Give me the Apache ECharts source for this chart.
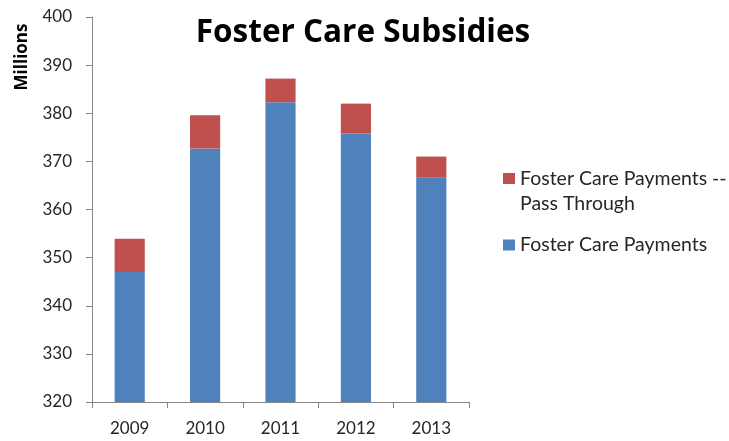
<!DOCTYPE html>
<html>
<head>
<meta charset="utf-8">
<script src="https://cdn.jsdelivr.net/npm/echarts@6/dist/echarts.min.js"></script>
<style>html,body{margin:0;padding:0;background:#fff;}#c{width:729px;height:441px;}</style>
</head>
<body>
<div id="c"></div>
<script>
var years = ['2009', '2010', '2011', '2012', '2013'];
var payments = [347.0, 372.7, 382.3, 375.8, 366.6];
var passThrough = [6.9, 6.9, 4.9, 6.2, 4.4];
var yTicks = [320, 330, 340, 350, 360, 370, 380, 390, 400];
var nameA = 'Foster Care Payments';
var nameB = 'Foster Care Payments -- Pass Through';

var FONT = 'Lato';
var chart = echarts.init(document.getElementById('c'));
chart.setOption({
  animation: false,
  backgroundColor: '#fff',
  title: {
    text: 'Foster Care Subsidies',
    left: 358, top: 12, textAlign: 'center',
    textStyle: { fontFamily: 'Open Sans', fontWeight: 'bold', fontSize: 31.5, color: '#000' }
  },
  legend: [
    {
      data: [nameB], orient: 'vertical', left: 503, top: 141, padding: 0,
      itemWidth: 12, itemHeight: 11, icon: 'rect',
      formatter: function () { return ' \nFoster Care Payments --\nPass Through'; },
      textStyle: { fontFamily: FONT, fontSize: 19.5, color: '#262626', lineHeight: 25 }
    },
    {
      data: [nameA], orient: 'vertical', left: 503, top: 233, padding: 0,
      itemWidth: 12, itemHeight: 11, icon: 'rect',
      textStyle: { fontFamily: FONT, fontSize: 19.5, color: '#262626', lineHeight: 24 }
    }
  ],
  grid: { left: 92, top: 17, width: 377, height: 385, containLabel: false },
  xAxis: {
    type: 'category', data: years,
    axisLine: { lineStyle: { color: '#868686', width: 1 } },
    axisTick: { show: true, length: 6, lineStyle: { color: '#868686' } },
    axisLabel: { fontFamily: FONT, fontSize: 17, color: '#262626', margin: 18 },
    splitLine: { show: false }
  },
  yAxis: {
    type: 'value', min: yTicks[0], max: yTicks[yTicks.length - 1], interval: 10,
    axisLine: { show: true, lineStyle: { color: '#868686', width: 1 } },
    axisTick: { show: true, length: 6, lineStyle: { color: '#868686' } },
    axisLabel: { fontFamily: FONT, fontSize: 17, color: '#262626', margin: 20 },
    splitLine: { show: false }
  },
  graphic: [{
    type: 'text', x: 22, y: 57, rotation: Math.PI / 2,
    style: { text: 'Millions', fontFamily: 'Open Sans', fontWeight: 'bold', fontSize: 17, fill: '#000',
      textAlign: 'center', textVerticalAlign: 'middle' }
  }],
  series: [
    { name: nameA, type: 'bar', stack: 'a', data: payments, barWidth: '40%',
      itemStyle: { color: '#4F81BD' } },
    { name: nameB, type: 'bar', stack: 'a', data: passThrough, barWidth: '40%',
      itemStyle: { color: '#C0504D' } }
  ]
});
</script>
</body>
</html>
